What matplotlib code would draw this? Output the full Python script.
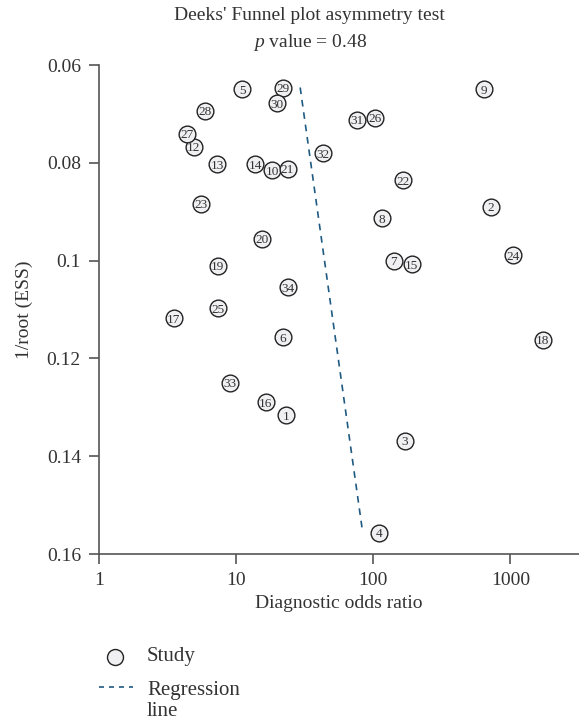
import numpy as np
import matplotlib
matplotlib.use('Agg')
import matplotlib.pyplot as plt
from matplotlib.lines import Line2D

plt.rcParams['font.family'] = ['Liberation Serif', 'DejaVu Serif']
plt.rcParams['mathtext.fontset'] = 'custom'
plt.rcParams['mathtext.it'] = 'Liberation Serif:italic'
plt.rcParams['mathtext.rm'] = 'Liberation Serif'

# study data (study 11 is not shown in the plot)
study_id = [1, 2, 3, 4, 5, 6, 7, 8, 9, 10, 12, 13, 14, 15, 16, 17,
            18, 19, 20, 21, 22, 23, 24, 25, 26, 27, 28, 29, 30, 31, 32, 33, 34]
dor = [23.1, 724, 170, 110.8, 11.06, 22.0, 140.8, 115.7, 645, 18.4, 4.90, 7.24,
       13.8, 190.5, 16.4, 3.50, 1722, 7.32, 15.5, 23.7, 164.5, 5.53, 1041, 7.39,
       102.4, 4.37, 5.95, 22.1, 20.0, 76.6, 43.0, 9.04, 23.7]
inv_root_ess = [0.1316, 0.0890, 0.1368, 0.1557, 0.0650, 0.1157, 0.1000, 0.0913, 0.0650,
                0.0815, 0.0767, 0.0803, 0.0803, 0.1007, 0.1290, 0.1118, 0.1162,
                0.1010, 0.0955, 0.0812, 0.0836, 0.0884, 0.0989, 0.1097, 0.0708, 0.0741,
                0.0694, 0.0646, 0.0678, 0.0712, 0.0780, 0.1250, 0.1054]

# regression line end points
reg_x = [29.3, 83.3]
reg_y = [0.0646, 0.1552]

text_col = '#333333'
spine_col = '#555555'
line_col = '#1f5a82'
face_col = '#f0f0f2'
edge_col = '#222222'

fig = plt.figure(figsize=(5.79, 7.24), dpi=100)
ax = fig.add_axes([0.171, 0.2348, 0.829, 0.6754])

ax.plot(reg_x, reg_y, ls=(0, (4, 3.5)), color=line_col, lw=1.2, zorder=1)

ax.scatter(dor, inv_root_ess, s=145, facecolor=face_col, edgecolor=edge_col, lw=1.0, zorder=2)
for sid, x, y in zip(study_id, dor, inv_root_ess):
    ax.text(x, y, str(sid), ha='center', va='center_baseline', fontsize=9.5,
            color=text_col, zorder=3)

ax.set_xscale('log')
ax.set_xlim(1, 10 ** 3.5)
ax.set_ylim(0.16, 0.06)
ax.set_xticks([1, 10, 100, 1000])
ax.set_xticklabels(['1', '10', '100', '1000'])
ax.xaxis.set_minor_locator(matplotlib.ticker.NullLocator())
ax.set_yticks([0.06, 0.08, 0.1, 0.12, 0.14, 0.16])
ax.set_yticklabels(['0.06', '0.08', '0.1', '0.12', '0.14', '0.16'])

for s in ['top', 'right']:
    ax.spines[s].set_visible(False)
for s in ['left', 'bottom']:
    ax.spines[s].set_color(spine_col)
    ax.spines[s].set_linewidth(1.2)
ax.tick_params(direction='out', length=7, width=1.2, color=spine_col,
               labelsize=14, labelcolor=text_col)
ax.tick_params(axis='x', pad=6)
ax.tick_params(axis='y', pad=6)

ax.set_xlabel('Diagnostic odds ratio', fontsize=14, color=text_col, labelpad=4)
ax.set_ylabel('1/root (ESS)', fontsize=14, color=text_col, labelpad=10)

fig.text(0.535, 0.978, "Deeks' Funnel plot asymmetry test", ha='center', va='center',
         fontsize=14, color=text_col)
fig.text(0.535, 0.941, r"$p$ value = 0.48", ha='center', va='center',
         fontsize=14, color=text_col)

# legend below the plot
H = 724.0
W = 579.0
fig.add_artist(Line2D([115 / W], [1 - 657 / H], marker='o', ls='none', markersize=11.5,
                      markerfacecolor=face_col, markeredgecolor=edge_col,
                      markeredgewidth=1.0, transform=fig.transFigure))
fig.text(147 / W, 1 - 657 / H, 'Study', ha='left', va='center', fontsize=15, color=text_col)
fig.add_artist(Line2D([99 / W, 133 / W], [1 - 687 / H] * 2, ls=(0, (3, 3)), color=line_col,
                      lw=1.2, transform=fig.transFigure))
fig.text(147 / W, 1 - 690 / H, 'Regression', ha='left', va='center', fontsize=15, color=text_col)
fig.text(147 / W, 1 - 712 / H, 'line', ha='left', va='center', fontsize=15, color=text_col)

fig.savefig('out.png', dpi=100)
